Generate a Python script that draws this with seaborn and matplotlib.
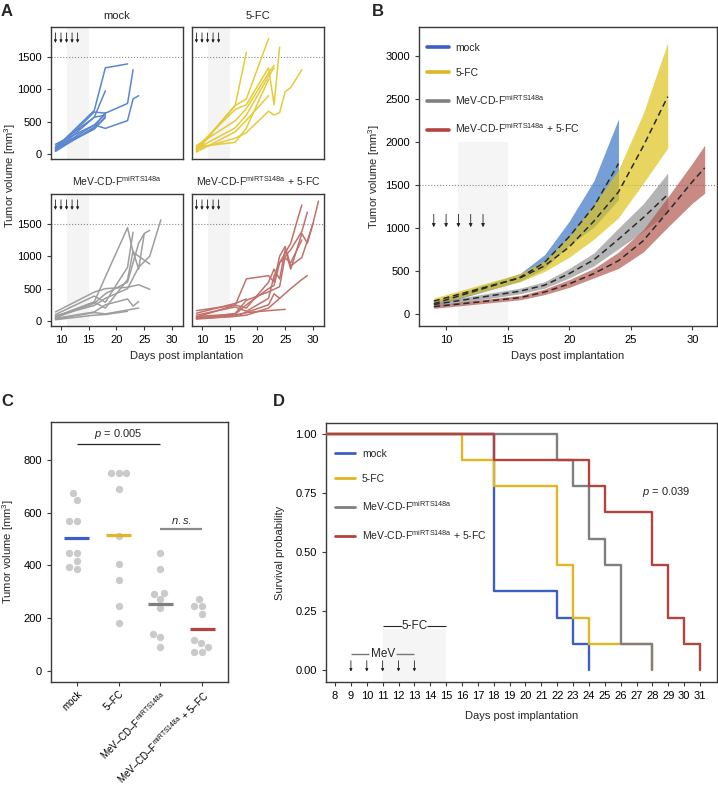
import numpy as np
import pandas as pd
import seaborn as sns
import matplotlib.pyplot as plt
from matplotlib.lines import Line2D

# ---- data ----
groups = ['mock', '5-FC', 'MeV', 'MeV+5-FC']
titles = ['mock', '5-FC', r'MeV-CD-F$^{\mathrm{miRTS148a}}$',
          r'MeV-CD-F$^{\mathrm{miRTS148a}}$ + 5-FC']
c_ticklabels = ['mock', '5–FC', r'MeV–CD–F$^{\mathrm{miRTS148a}}$',
                r'MeV–CD–F$^{\mathrm{miRTS148a}}$ + 5–FC']

# A: single tumours, (day, volume)
mock_lines = [
    [(9, 90), (16, 673), (18, 1330), (22, 1390)],
    [(9, 60), (16, 648), (18, 630), (22, 780), (23, 1300)],
    [(9, 80), (16, 448), (18, 395), (22, 515), (23, 850), (24, 900)],
    [(9, 50), (16, 568), (18, 975)],
    [(9, 120), (16, 568), (18, 600)],
    [(9, 40), (16, 417), (18, 640)],
    [(9, 100), (16, 392), (18, 560)],
    [(9, 150), (16, 448), (18, 620)],
    [(9, 70), (16, 385), (18, 580)],
]
fc_lines = [
    [(9, 60), (16, 750)],
    [(9, 50), (16, 750), (18, 1570)],
    [(9, 40), (16, 750), (18, 850), (22, 1780)],
    [(9, 100), (16, 688), (18, 760), (22, 1330), (23, 760), (24, 1650)],
    [(9, 130), (16, 512), (18, 700), (22, 1250), (23, 1370)],
    [(9, 80), (16, 405), (18, 600), (22, 1200), (23, 1330)],
    [(9, 30), (16, 343), (18, 520), (22, 900)],
    [(9, 70), (16, 245), (18, 330), (22, 660), (23, 600), (24, 640), (25, 960), (26, 1025), (28, 1300)],
    [(9, 110), (16, 180), (18, 400), (22, 1150)],
]
mev_lines = [
    [(9, 60), (16, 297), (18, 680), (22, 1440), (23, 1060), (24, 1000), (26, 880)],
    [(9, 140), (16, 446), (18, 500), (22, 520), (24, 560), (26, 490)],
    [(9, 100), (16, 385), (18, 290), (22, 830), (23, 1370)],
    [(9, 70), (16, 290), (18, 200), (22, 640), (23, 1080), (24, 800), (25, 1340)],
    [(9, 50), (16, 272), (18, 420), (22, 600), (24, 1200), (25, 1350), (26, 1400)],
    [(9, 80), (16, 239), (18, 350), (22, 500), (24, 830), (26, 1000), (28, 1560)],
    [(9, 40), (16, 140), (18, 250), (22, 340), (23, 230), (24, 300)],
    [(9, 30), (16, 130), (18, 110), (22, 170), (24, 200)],
    [(9, 20), (16, 90), (18, 100), (22, 150)],
]
red_lines = [
    [(9, 120), (16, 272), (18, 340)],
    [(9, 160), (16, 246), (18, 650), (22, 700), (23, 600), (24, 1000), (25, 1150), (26, 850), (28, 980), (30, 1500)],
    [(9, 60), (16, 246), (18, 200), (22, 600), (23, 800), (24, 650), (25, 1100), (26, 800), (28, 1350), (29, 1200), (30, 1500), (31, 1850)],
    [(9, 90), (16, 217), (18, 150), (22, 350), (23, 700), (24, 900), (26, 1200), (27, 1500), (28, 1790)],
    [(9, 40), (16, 117), (18, 320), (22, 450), (24, 530), (25, 1000), (26, 1100), (28, 1380), (29, 1680)],
    [(9, 70), (16, 105), (18, 250), (22, 500), (23, 550), (24, 900), (25, 970), (26, 900), (28, 1250)],
    [(9, 50), (16, 92), (18, 130), (22, 160), (25, 180)],
    [(9, 40), (16, 73), (18, 90), (22, 200), (24, 350), (26, 500), (28, 640), (29, 700)],
    [(9, 30), (16, 73), (22, 250), (23, 420), (24, 350)],
]

# B: model mean with confidence band
b_days = {'mock': [9, 16, 18, 20, 22, 24],
          '5-FC': [9, 16, 18, 20, 22, 24, 26, 28],
          'MeV': [9, 16, 18, 20, 22, 24, 26, 28],
          'MeV+5-FC': [9, 16, 18, 20, 22, 24, 26, 28, 30, 31]}
b_mean = {'mock': [120, 425, 600, 900, 1250, 1750],
          '5-FC': [150, 420, 560, 780, 1080, 1420, 1950, 2530],
          'MeV': [110, 265, 335, 470, 630, 870, 1120, 1390],
          'MeV+5-FC': [85, 190, 255, 350, 470, 620, 850, 1190, 1540, 1700]}
b_lo = {'mock': [95, 380, 530, 800, 1010, 1330],
        '5-FC': [110, 375, 495, 660, 870, 1120, 1520, 1930],
        'MeV': [85, 235, 300, 420, 560, 760, 960, 1180],
        'MeV+5-FC': [65, 165, 225, 310, 420, 530, 720, 1010, 1290, 1405]}
b_hi = {'mock': [150, 470, 690, 1080, 1550, 2270],
        '5-FC': [185, 470, 620, 900, 1270, 1680, 2330, 3160],
        'MeV': [135, 300, 375, 530, 710, 1000, 1280, 1640],
        'MeV+5-FC': [105, 215, 290, 400, 530, 720, 980, 1360, 1755, 1965]}

# C: tumour volume per animal
c_mock = [673, 648, 568, 568, 448, 448, 417, 392, 385]
c_fc = [749, 749, 749, 688, 512, 405, 343, 246, 181]
c_mev = [446, 385, 297, 290, 272, 239, 140, 130, 90]
c_red = [272, 246, 246, 217, 117, 105, 92, 73, 73]

# D: day of death per animal
death_mock = [18, 18, 18, 18, 18, 18, 22, 23, 24]
death_fc = [16, 18, 22, 22, 22, 23, 23, 24, 28]
death_mev = [22, 23, 24, 24, 25, 26, 26, 26, 28]
death_red = [18, 24, 25, 28, 28, 29, 29, 30, 31]

treat_days = [9, 10, 11, 12, 13]

col_line = {'mock': '#3d5fc4', '5-FC': '#e0b623', 'MeV': '#7f7f7f', 'MeV+5-FC': '#b3433c'}
col_spag = {'mock': '#5a86cf', '5-FC': '#e5cb3a', 'MeV': '#9e9e9e', 'MeV+5-FC': '#c0716b'}
col_fill = {'mock': '#3e77c7', '5-FC': '#dec41c', 'MeV': '#949494', 'MeV+5-FC': '#b2584f'}

# ---- style ----
sns.set_style('ticks')
plt.rcParams['font.family'] = ['Liberation Sans', 'DejaVu Sans']
plt.rcParams['mathtext.fontset'] = 'custom'
plt.rcParams['mathtext.rm'] = 'Liberation Sans'
plt.rcParams['mathtext.it'] = 'Liberation Sans:italic'
plt.rcParams['mathtext.bf'] = 'Liberation Sans:bold'
plt.rcParams['font.size'] = 8
plt.rcParams['axes.edgecolor'] = '#3a3a3a'
plt.rcParams['axes.linewidth'] = 1.0
plt.rcParams['xtick.labelsize'] = 8
plt.rcParams['ytick.labelsize'] = 8
plt.rcParams['xtick.major.size'] = 3
plt.rcParams['ytick.major.size'] = 3
plt.rcParams['xtick.major.width'] = 0.8
plt.rcParams['ytick.major.width'] = 0.8
plt.rcParams['xtick.color'] = '#3a3a3a'
plt.rcParams['ytick.color'] = '#3a3a3a'
plt.rcParams['xtick.labelcolor'] = 'black'
plt.rcParams['ytick.labelcolor'] = 'black'
plt.rcParams['axes.labelsize'] = 8

W, H = 718, 789
fig = plt.figure(figsize=(W / 100, H / 100), dpi=100)


def box(x0, y0, x1, y1):
    # pixel box -> axes
    return fig.add_axes([x0 / W, 1 - y1 / H, (x1 - x0) / W, (y1 - y0) / H])


def arrows(ax, y_top, y_tip, ms=5):
    for d in treat_days:
        ax.annotate('', xy=(d, y_tip), xytext=(d, y_top),
                    arrowprops=dict(arrowstyle='-|>', color='#222222', lw=0.6,
                                    mutation_scale=ms, shrinkA=0, shrinkB=0))


# ---- A ----
rows = []
for g, lines in zip(groups, [mock_lines, fc_lines, mev_lines, red_lines]):
    for i, ln in enumerate(lines):
        for d, v in ln:
            rows.append((g, f'{g}_{i}', d, v))
df_a = pd.DataFrame(rows, columns=['group', 'mouse', 'day', 'volume'])

a_boxes = [(51, 27, 183, 159), (192, 27, 324, 159), (51, 194, 183, 326), (192, 194, 324, 326)]
for k, g in enumerate(groups):
    ax = box(*a_boxes[k])
    ax.axvspan(11, 15, color='#f4f4f4', lw=0, zorder=0)
    ax.axhline(1500, color='#8a8a8a', ls=':', lw=0.8, zorder=1)
    sns.lineplot(data=df_a[df_a.group == g], x='day', y='volume', units='mouse',
                 estimator=None, color=col_spag[g], lw=1.1, ax=ax, legend=False)
    arrows(ax, 1870, 1715, ms=4)
    ax.set_xlim(8.2, 32)
    ax.set_ylim(-77, 1960)
    ax.set_xticks([10, 15, 20, 25, 30])
    ax.set_yticks([0, 500, 1000, 1500])
    ax.set_xlabel('')
    ax.set_ylabel('')
    ax.set_title(titles[k], fontsize=8 if k < 2 else 7.5, pad=6)
    if k < 2:
        ax.tick_params(axis='x', bottom=False, labelbottom=False)
    if k % 2 == 1:
        ax.tick_params(axis='y', left=False, labelleft=False)

fig.text(10 / W, 1 - 176 / H, 'Tumor volume [mm$^3$]', rotation=90, ha='center', va='center')
fig.text(187 / W, 1 - 351 / H, 'Days post implantation', ha='center', va='top')

# ---- B ----
ax = box(419, 27, 717, 326)
ax.fill_between([11, 15], -140, 2000, color='#f5f5f5', lw=0, zorder=0)
ax.axhline(1500, color='#8a8a8a', ls=':', lw=0.8, zorder=1)
for g in groups:
    ax.fill_between(b_days[g], b_lo[g], b_hi[g], color=col_fill[g], alpha=0.7, lw=0, zorder=2)
for g in groups:
    sns.lineplot(x=b_days[g], y=b_mean[g], ax=ax, color='#2a2a2a', lw=1.1,
                 linestyle=(0, (4, 2.5)), zorder=3)
arrows(ax, 1160, 1010)
ax.set_xlim(7.8, 32)
ax.set_ylim(-140, 3340)
ax.set_xticks([10, 15, 20, 25, 30])
ax.set_yticks([0, 500, 1000, 1500, 2000, 2500, 3000])
ax.set_ylabel('Tumor volume [mm$^3$]')
ax.set_xlabel('Days post implantation')
ax.yaxis.set_label_coords(-0.125, 0.5)
ax.xaxis.set_label_coords(0.5, -0.084)
handles = [Line2D([0], [0], color=col_line[g], lw=2.6) for g in groups]
ax.legend(handles, titles, loc='upper left', bbox_to_anchor=(0.028, 0.948), frameon=False,
          fontsize=7.5, handlelength=2.1, handletextpad=0.6, labelspacing=1.45,
          borderaxespad=0, borderpad=0)

# ---- C ----
df_c = pd.DataFrame({'group': np.repeat(groups, 9),
                     'volume': c_mock + c_fc + c_mev + c_red})
ax = box(51, 422, 228, 682)
sns.swarmplot(data=df_c, x='group', y='volume', order=groups, color='#bdbdbd',
              alpha=0.8, size=5.3, ax=ax, zorder=2)
means = df_c.groupby('group')['volume'].mean()
for i, g in enumerate(groups):
    ax.hlines(means[g], i - 0.3, i + 0.3, color=col_line[g], lw=2.3, zorder=3)
ax.hlines(860, 0, 2, color='#222222', lw=0.9)
ax.text(1, 872, '$p$ = 0.005', ha='center', va='bottom')
ax.hlines(537, 2, 3, color='#8a8a8a', lw=1.6)
ax.text(2.5, 550, '$n.s.$', ha='center', va='bottom')
ax.set_xlim(-0.62, 3.62)
ax.set_ylim(-42, 943)
ax.set_yticks([0, 200, 400, 600, 800])
ax.set_xticks(range(4))
ax.set_xticklabels(c_ticklabels, rotation=45, ha='right', rotation_mode='anchor', fontsize=7.0)
ax.tick_params(axis='x', pad=2)
ax.set_xlabel('')
ax.set_ylabel('Tumor volume [mm$^3$]')
ax.yaxis.set_label_coords(-0.195, 0.5)

# ---- D ----
ax = box(326, 423, 717, 682)
ax.fill_between([11, 15], -0.05, 0.172, color='#f5f5f5', lw=0, zorder=0)
for g, deaths in zip(groups, [death_mock, death_fc, death_mev, death_red]):
    deaths = np.array(deaths)
    t = [7] + sorted(set(deaths))
    s = [1.0] + [np.mean(deaths > d) for d in sorted(set(deaths))]
    sns.lineplot(x=t, y=s, ax=ax, color=col_line[g], lw=1.7, drawstyle='steps-post',
                 estimator=None, zorder=3)
ax.hlines(0.187, 11, 12.2, color='#222222', lw=0.8)
ax.hlines(0.187, 13.8, 15, color='#222222', lw=0.8)
ax.text(13, 0.187, '5-FC', ha='center', va='center', fontsize=8.5)
ax.hlines(0.068, 9, 10.15, color='#777777', lw=1.0)
ax.hlines(0.068, 11.85, 13, color='#777777', lw=1.0)
ax.text(11, 0.068, 'MeV', ha='center', va='center', fontsize=8.5)
arrows(ax, 0.04, -0.006, ms=4)
ax.text(28.9, 0.754, '$p$ = 0.039', ha='center', va='center')
ax.set_xlim(7.43, 32.07)
ax.set_ylim(-0.05, 1.045)
ax.set_xticks(range(8, 32))
ax.set_yticks([0, 0.25, 0.5, 0.75, 1.0])
ax.set_yticklabels(['0.00', '0.25', '0.50', '0.75', '1.00'])
ax.set_ylabel('Survival probability')
ax.set_xlabel('Days post implantation')
ax.yaxis.set_label_coords(-0.105, 0.5)
ax.xaxis.set_label_coords(0.5, -0.112)
handles = [Line2D([0], [0], color=col_line[g], lw=2.0) for g in groups]
ax.legend(handles, titles, loc='upper left', bbox_to_anchor=(0.023, 0.9), frameon=False,
          fontsize=7.5, handlelength=1.9, handletextpad=0.7, labelspacing=1.45,
          borderaxespad=0, borderpad=0)

# panel letters
for lab, x, y in [('A', 1, 11), ('B', 372, 11), ('C', 1, 402), ('D', 273, 402)]:
    fig.text(x / W, 1 - y / H, lab, fontsize=12, fontweight='bold', va='center', ha='left')

fig.savefig('out.png', dpi=100)
